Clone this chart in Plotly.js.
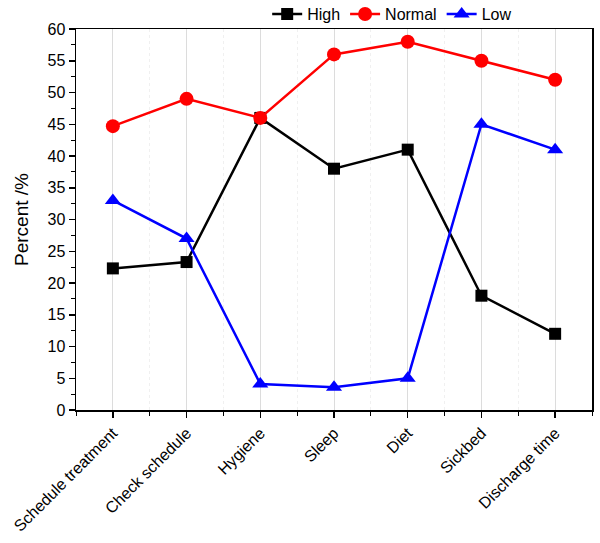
<!DOCTYPE html>
<html><head><meta charset="utf-8">
<script src="https://cdn.plot.ly/plotly-3.0.1.min.js"></script>
<style>html,body{margin:0;padding:0;background:#fff}</style>
</head><body><div id="chart" style="width:600px;height:543px"></div>
<script>
const categories = ["Schedule treatment","Check schedule","Hygiene","Sleep","Diet","Sickbed","Discharge time"];
const high = [22.3, 23.3, 46, 38, 41, 18, 12];
const normal = [44.7, 49, 46, 56, 58, 55, 52];
const low = [33, 27, 4.1, 3.6, 5, 45, 41];
const xIdx = categories.map((c,i)=>i);
const font = {family:"Liberation Sans, Arial, sans-serif", size:16, color:"#000"};
const traces = [
 {name:"High", x:xIdx, y:high, mode:"lines+markers", line:{color:"#000",width:2.5}, marker:{symbol:"square",size:12,color:"#000"}},
 {name:"Normal", x:xIdx, y:normal, mode:"lines+markers", line:{color:"#ff0000",width:2.5}, marker:{symbol:"circle",size:14,color:"#ff0000"}},
 {name:"Low", x:xIdx, y:low, mode:"lines+markers", line:{color:"#0000ff",width:2.5}, marker:{symbol:"triangle-up",size:14,color:"#0000ff"}}
];
const layout = {
 width:600, height:543, margin:{l:76,r:8,t:29,b:133,autoexpand:false},
 paper_bgcolor:"#fff", plot_bgcolor:"#fff", font:font, showlegend:true,
 legend:{orientation:"h", x:0.855, xanchor:"right", y:1.039, yanchor:"middle", font:font, tracegroupgap:0, bgcolor:"rgba(0,0,0,0)"},
 xaxis:{range:[-0.5,6.5], tickmode:"array", tickvals:xIdx, ticktext:categories, tickangle:-45, automargin:false,
   showline:true, linecolor:"#000", linewidth:1.5, mirror:true, ticks:"outside", ticklen:6, tickcolor:"#000", tickwidth:1.5,
   showgrid:true, gridcolor:"#dcdcdc", gridwidth:1, zeroline:false, tickfont:font,
   minor:{dtick:1, tick0:0.5, ticks:"outside", ticklen:4, tickcolor:"#000", tickwidth:1, showgrid:true, gridcolor:"#f0f0f0", griddash:"dot"}},
 yaxis:{range:[0,60], dtick:5, automargin:false, showline:true, linecolor:"#000", linewidth:1.5, mirror:true, ticks:"outside", ticklen:6, tickcolor:"#000", tickwidth:1.5,
   showgrid:false, zeroline:false, tickfont:font, title:{text:"Percent /%", font:{family:font.family,size:19,color:"#000"}, standoff:14},
   minor:{dtick:2.5, ticks:"outside", ticklen:4, tickcolor:"#000", tickwidth:1}}
};
Plotly.newPlot("chart", traces, layout, {displayModeBar:false, staticPlot:true});
</script></body></html>
